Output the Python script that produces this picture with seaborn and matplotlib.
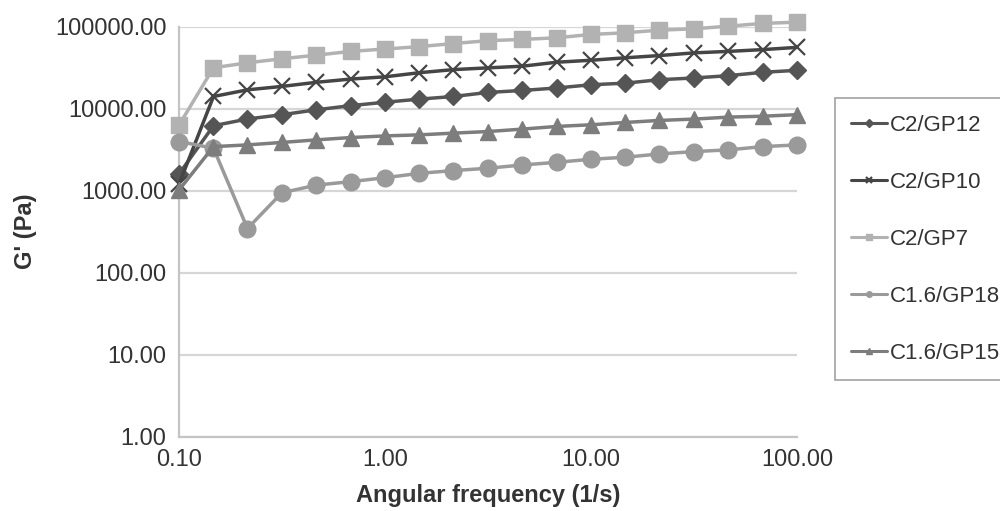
import matplotlib
matplotlib.use("Agg")
import matplotlib.pyplot as plt
from matplotlib.ticker import FixedLocator, FuncFormatter, NullLocator
import pandas as pd
import seaborn as sns

# Angular frequency sweep (1/s)
freq = [0.1, 0.147, 0.215, 0.316, 0.464, 0.681, 1.0, 1.47, 2.15, 3.16,
        4.64, 6.81, 10.0, 14.7, 21.5, 31.6, 46.4, 68.1, 100.0]

# Storage modulus G' (Pa) for each formulation
c2_gp12 = [1600, 6200, 7500, 8450, 9700, 10900, 12000, 13100, 14100, 15800,
           16700, 17900, 19600, 20500, 22600, 23700, 25300, 27800, 29400]
c2_gp10 = [1200, 14100, 17000, 18700, 21000, 23000, 24500, 27500, 30000, 31500,
           33000, 36900, 39000, 41800, 44500, 48000, 50000, 52600, 56000]
c2_gp7 = [6300, 31600, 36300, 40700, 45000, 50000, 53500, 57200, 62400, 67600,
          70000, 73300, 80500, 84400, 90800, 94300, 101600, 109600, 113700]
c16_gp18 = [3980, 3300, 346, 945, 1170, 1290, 1440, 1630, 1760, 1880,
            2060, 2220, 2420, 2560, 2810, 3000, 3150, 3450, 3620]
c16_gp15 = [1020, 3450, 3620, 3880, 4170, 4450, 4660, 4800, 5040, 5270,
            5640, 6080, 6370, 6800, 7200, 7470, 7900, 8100, 8460]

series_names = ["C2/GP12", "C2/GP10", "C2/GP7", "C1.6/GP18", "C1.6/GP15"]
series_values = [c2_gp12, c2_gp10, c2_gp7, c16_gp18, c16_gp15]

y_ticks = [1, 10, 100, 1000, 10000, 100000]
x_ticks = [0.1, 1, 10, 100]

df = pd.concat(
    [pd.DataFrame({"freq": freq, "G": vals, "sample": name})
     for name, vals in zip(series_names, series_values)],
    ignore_index=True,
)

# per-series look: colour, marker, marker size, marker edge width
styles = {
    "C2/GP12": ("#555555", "D", 9, 1.0),
    "C2/GP10": ("#454545", "x", 12, 1.6),
    "C2/GP7": ("#b2b2b2", "s", 11, 1.0),
    "C1.6/GP18": ("#9a9a9a", "o", 12, 1.0),
    "C1.6/GP15": ("#7d7d7d", "^", 11, 1.0),
}

sns.set_style("white")
plt.rcParams["font.family"] = ["Liberation Sans", "DejaVu Sans"]

fig = plt.figure(figsize=(10, 5.11), dpi=100)
ax = fig.add_axes([0.179, 0.1454, 0.618, 0.8023])

for name in series_names:
    color, marker, ms, mew = styles[name]
    sns.lineplot(
        data=df[df["sample"] == name], x="freq", y="G",
        color=color, marker=marker, markersize=ms, markeredgewidth=mew,
        markeredgecolor=color, linewidth=2.5, label=name,
        ax=ax, clip_on=False, zorder=3,
    )

ax.set_xscale("log")
ax.set_yscale("log")
ax.set_xlim(0.1, 100)
ax.set_ylim(1, 100000)

fmt = FuncFormatter(lambda v, pos: f"{v:.2f}")
ax.xaxis.set_major_locator(FixedLocator(x_ticks))
ax.yaxis.set_major_locator(FixedLocator(y_ticks))
ax.xaxis.set_minor_locator(NullLocator())
ax.yaxis.set_minor_locator(NullLocator())
ax.xaxis.set_major_formatter(fmt)
ax.yaxis.set_major_formatter(fmt)

ax.grid(axis="y", color="#d6d6d6", linewidth=1.6)
ax.grid(axis="x", visible=False)
ax.set_axisbelow(True)

for side in ["top", "right"]:
    ax.spines[side].set_visible(False)
for side in ["left", "bottom"]:
    ax.spines[side].set_color("#c4c4c4")
    ax.spines[side].set_linewidth(1.6)

ax.tick_params(axis="both", which="major", direction="out", length=6,
               width=1.4, color="#c4c4c4", labelsize=17,
               labelcolor="#333333", pad=3)

ax.set_xlabel("Angular frequency (1/s)", fontsize=17, fontweight="bold",
              color="#333333", labelpad=9)
ax.set_ylabel("G' (Pa)", fontsize=17, fontweight="bold", color="#333333",
              labelpad=13)

leg = ax.legend(
    loc="upper left", bbox_to_anchor=(1.061, 0.826),
    frameon=True, fancybox=False, shadow=False,
    fontsize=16, labelspacing=1.62, handlelength=1.6,
    handletextpad=0.15, borderpad=0.75, borderaxespad=0,
)
leg.get_frame().set_edgecolor("#8a8a8a")
leg.get_frame().set_linewidth(1.2)
for h in leg.legend_handles:
    h.set_markersize(4)
    h.set_linewidth(2.2)
for t in leg.get_texts():
    t.set_color("#333333")

fig.savefig("out.png", dpi=100)
